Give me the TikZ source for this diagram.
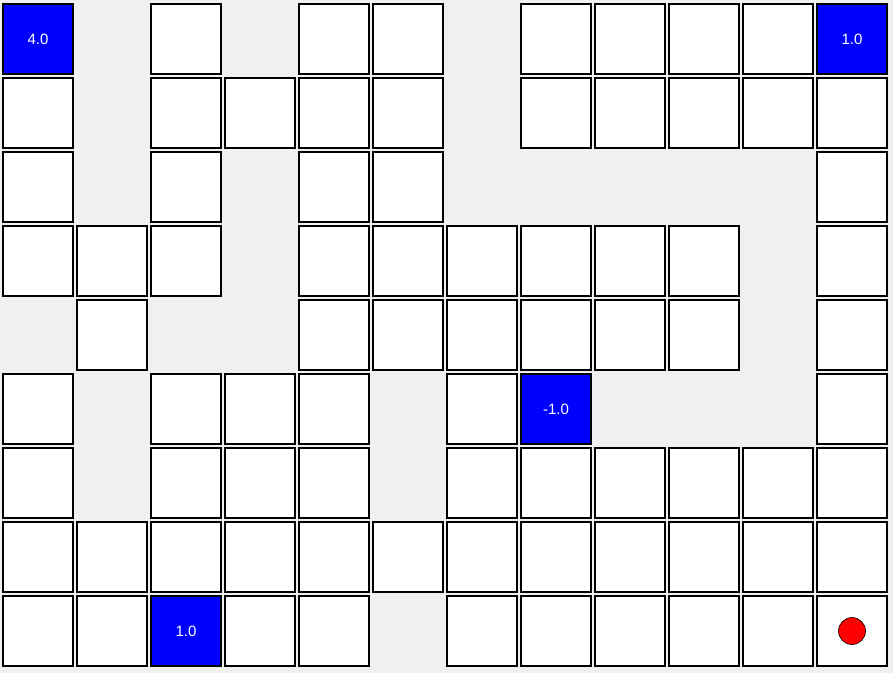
\documentclass[tikz,border=0pt]{standalone}
\usepackage{fontspec}
\setmainfont{Liberation Sans}
\definecolor{bg}{HTML}{F0F0F0}
\definecolor{cellblue}{HTML}{0000FF}
\definecolor{agentred}{HTML}{FF0000}
\tikzset{
  cell/.style={draw=black, line width=1.8pt, fill=white, minimum width=70pt, minimum height=70pt, inner sep=0pt, outer sep=0pt},
  goal/.style={cell, fill=cellblue, text=white, font=\fontsize{15}{15}\selectfont},
  agent/.style={circle, draw=black, line width=0.6pt, fill=agentred, minimum size=27pt, inner sep=0pt}
}
\begin{document}
\begin{tikzpicture}[x=1pt,y=1pt]
\fill[bg] (0,0) rectangle (893,673);
\useasboundingbox (0,0) rectangle (893,673);
% cell centre: x = 38 + 74c, y = 673 - (39 + 74r)
\foreach \r/\cols in {0/{2,4,5,7,8,9,10},
                      1/{0,2,3,4,5,7,8,9,10,11},
                      2/{0,2,4,5,11},
                      3/{0,1,2,4,5,6,7,8,9,11},
                      4/{1,4,5,6,7,8,9,11},
                      5/{0,2,3,4,6,11},
                      6/{0,2,3,4,6,7,8,9,10,11},
                      7/{0,1,2,3,4,5,6,7,8,9,10,11},
                      8/{0,1,3,4,6,7,8,9,10,11}}{
  \foreach \c in \cols {
    \node[cell] (c\r-\c) at ({38+74*\c},{673-(39+74*\r)}) {};
  }
}
\node[goal] (c0-0) at ({38+74*0},{673-(39+74*0)}) {4.0};
\node[goal] (c0-11) at ({38+74*11},{673-(39+74*0)}) {1.0};
\node[goal] (c5-7) at ({38+74*7},{673-(39+74*5)}) {-1.0};
\node[goal] (c8-2) at ({38+74*2},{673-(39+74*8)}) {1.0};
\node[agent] (agent) at (c8-11.center) {};
\end{tikzpicture}
\end{document}
